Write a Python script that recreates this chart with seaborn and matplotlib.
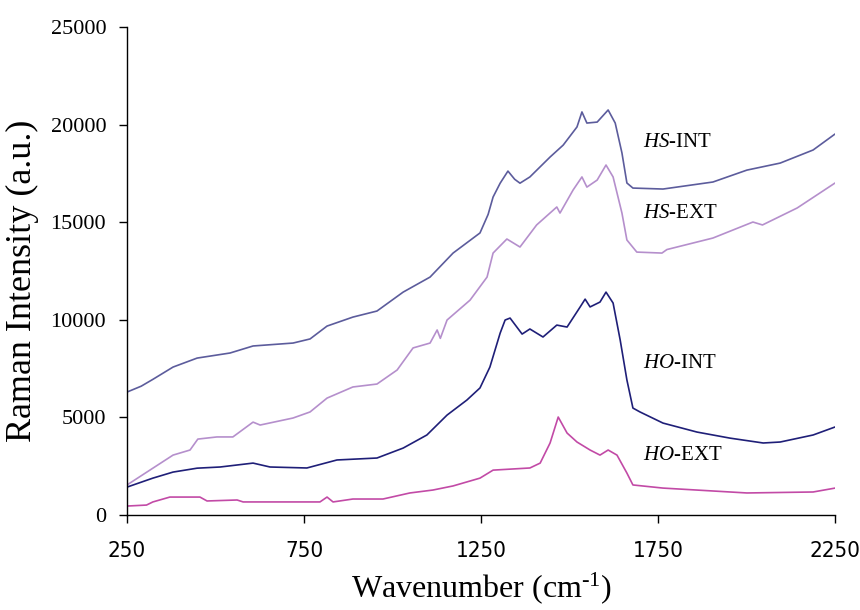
import pandas as pd
import matplotlib.pyplot as plt
import seaborn as sns

# 四条拉曼谱线
hs_int_x = [250, 290, 323, 380, 448, 541, 606, 719, 767, 815, 888, 956, 1030, 1106, 1171, 1247,
            1270, 1284, 1304, 1326, 1345, 1360, 1388, 1445, 1482, 1521, 1535, 1549, 1578, 1609,
            1629, 1648, 1662, 1679, 1764, 1905, 2001, 2095, 2188, 2250]
hs_int_y = [6300, 6600, 6950, 7580, 8040, 8300, 8660, 8810, 9020, 9680, 10140, 10450, 11420,
            12190, 13420, 14450, 15400, 16290, 17000, 17620, 17200, 17000, 17320, 18340, 18950,
            19880, 20650, 20080, 20130, 20750, 20080, 18550, 17010, 16750, 16700, 17060, 17670,
            18030, 18700, 19520]

hs_ext_x = [250, 323, 380, 428, 450, 504, 549, 606, 626, 719, 767, 815, 888, 956, 1013, 1058,
            1106, 1126, 1135, 1154, 1219, 1267, 1284, 1323, 1360, 1407, 1464, 1473, 1510, 1535,
            1549, 1578, 1603, 1623, 1648, 1662, 1690, 1761, 1775, 1905, 2018, 2045, 2143, 2250]
hs_ext_y = [1540, 2400, 3070, 3330, 3890, 4000, 4000, 4760, 4610, 4970, 5280, 5990, 6560, 6710,
            7430, 8560, 8810, 9480, 9050, 9990, 11010, 12190, 13420, 14140, 13730, 14860, 15780,
            15470, 16650, 17320, 16800, 17160, 17930, 17320, 15470, 14090, 13470, 13420, 13600,
            14190, 15010, 14860, 15730, 17010]

ho_int_x = [250, 323, 380, 448, 513, 606, 654, 758, 843, 956, 1030, 1097, 1154, 1210, 1247,
            1275, 1304, 1318, 1332, 1366, 1388, 1425, 1464, 1493, 1530, 1544, 1558, 1586, 1603,
            1623, 1643, 1662, 1679, 1699, 1764, 1860, 1953, 2047, 2095, 2188, 2250]
ho_int_y = [1430, 1890, 2200, 2400, 2460, 2660, 2460, 2410, 2820, 2920, 3430, 4100, 5120, 5890,
            6510, 7580, 9320, 9990, 10090, 9270, 9530, 9120, 9730, 9630, 10660, 11060, 10660,
            10910, 11420, 10860, 8970, 6920, 5480, 5280, 4710, 4250, 3940, 3690, 3740, 4100, 4510]

ho_ext_x = [250, 305, 323, 371, 456, 476, 561, 578, 795, 815, 832, 888, 973, 1049, 1114, 1171,
            1247, 1284, 1388, 1417, 1445, 1468, 1493, 1521, 1558, 1586, 1609, 1634, 1662, 1679,
            1764, 2001, 2188, 2250]
ho_ext_y = [460, 510, 670, 920, 920, 720, 770, 670, 670, 920, 670, 820, 820, 1130, 1280, 1490,
            1890, 2300, 2410, 2660, 3690, 5020, 4200, 3740, 3330, 3070, 3330, 3070, 2150, 1540,
            1380, 1130, 1180, 1380]

names = ['HS-INT', 'HS-EXT', 'HO-INT', 'HO-EXT']
colors = ['#5c5c9c', '#b58fcc', '#1f1f78', '#c24aa6']
label_text = [r'$\it{HS}$-INT', r'$\it{HS}$-EXT', r'$\it{HO}$-INT', r'$\it{HO}$-EXT']
label_y = [19060, 15470, 7740, 3070]

df = pd.concat([
    pd.DataFrame({'x': hs_int_x, 'y': hs_int_y, 'sample': 'HS-INT'}),
    pd.DataFrame({'x': hs_ext_x, 'y': hs_ext_y, 'sample': 'HS-EXT'}),
    pd.DataFrame({'x': ho_int_x, 'y': ho_int_y, 'sample': 'HO-INT'}),
    pd.DataFrame({'x': ho_ext_x, 'y': ho_ext_y, 'sample': 'HO-EXT'}),
])

sns.set_style('ticks')
plt.rcParams['font.family'] = ['Liberation Serif', 'DejaVu Serif']
plt.rcParams['mathtext.fontset'] = 'custom'
plt.rcParams['mathtext.rm'] = 'Liberation Serif'
plt.rcParams['mathtext.it'] = 'Liberation Serif:italic'
plt.rcParams['text.color'] = 'black'
plt.rcParams['axes.labelcolor'] = 'black'

fig = plt.figure(figsize=(8.6, 6.1), dpi=100)
ax = fig.add_axes([0.1477, 0.1557, 0.971 - 0.1477, 0.9557 - 0.1557])

sns.lineplot(data=df, x='x', y='y', hue='sample', hue_order=names,
             palette=dict(zip(names, colors)), estimator=None, sort=False,
             linewidth=1.2, legend=False, ax=ax)

for t, yy in zip(label_text, label_y):
    ax.text(1708, yy, t, fontsize=15, va='center', ha='left', color='black')

ax.set_xlim(250, 2250)
ax.set_ylim(0, 25000)
ax.set_xticks([250, 750, 1250, 1750, 2250])
ax.set_yticks(range(0, 25001, 5000))
ax.tick_params(direction='out', length=6, width=1, colors='black', labelcolor='black')
ax.tick_params(axis='y', labelsize=16, pad=9)
ax.tick_params(axis='x', labelsize=16, pad=13)
for lb in ax.get_xticklabels():
    lb.set_family(['DejaVu Sans'])
    lb.set_stretch('condensed')

ax.set_xlabel(r'Wavenumber (cm$^{\mathrm{\text{-}1}}$)', fontsize=23, labelpad=6)
ax.set_ylabel('Raman Intensity (a.u.)', fontsize=26, labelpad=6)
ax.yaxis.set_label_coords(-0.125, 0.48)
sns.despine(ax=ax)
for s in ['left', 'bottom']:
    ax.spines[s].set_color('black')
    ax.spines[s].set_linewidth(1)

fig.savefig('out.png', dpi=100)
